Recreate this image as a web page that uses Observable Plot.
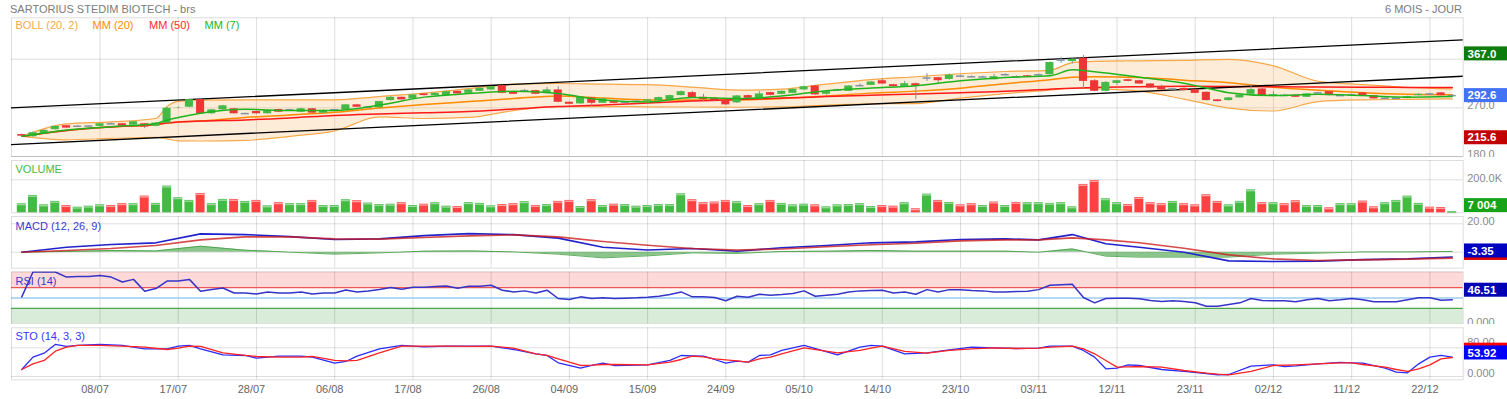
<!DOCTYPE html>
<html><head><meta charset="utf-8">
<script src="https://cdn.jsdelivr.net/npm/d3@7"></script>
<script src="https://cdn.jsdelivr.net/npm/@observablehq/plot@0.6"></script>
<style>
body{margin:0;background:#fff;overflow:hidden;}
#wrap{position:relative;width:1507px;height:399px;overflow:hidden;background:#fff;font-family:"Liberation Sans",Arial,Helvetica,sans-serif;}
.panel{position:absolute;left:0;}
.hdr{position:absolute;font-size:11px;color:#7b7b7b;white-space:nowrap;line-height:13px;}
</style></head><body><div id="wrap"></div>
<script>
// ---------- DATA ----------
const tickIdx = [7,14,21,28,35,42,49,56,63,70,77,84,91,98,105,112,119,126];
const tickLabels = ["08/07","17/07","28/07","06/08","17/08","26/08","04/09","15/09","24/09","05/10","14/10","23/10","03/11","12/11","23/11","02/12","11/12","22/12"];

const open = [220.5,216.5,222,229.6,236.9,235.5,236,235.7,240.6,240.6,238,240.6,235.7,241.7,269.5,271.1,285.2,259,266.3,268.2,259,263.2,259,266.9,266,261.9,268.2,260.1,266,266.3,275.5,271,270,283.4,289.5,286.5,295.7,292.6,292.6,300.5,296.8,300.5,303.1,311,298.7,301.6,301.8,296.8,303.1,280.3,277.3,288.4,278.4,283.4,280.1,281.9,282.1,282.9,284.7,292.6,298.1,289.5,287.6,283.4,279.2,292.6,285.8,298.1,295,296.8,303.1,310.4,295,302.9,300.5,310.8,311.5,320.1,312.8,309.7,314.6,325,325.7,322.5,328.8,327.5,326.8,322,330.9,327.5,329.3,331,331.2,358,355.6,361.8,320.1,300.5,315.2,322,320.1,314.1,309.7,304.7,306,303.1,298.7,284.7,283.4,288.4,295,304.9,290.8,293.2,293.1,289.5,297.5,299.9,292.5,293.8,297.6,292.6,287.5,287.5,287.6,292.6,295.7,297.6,292.3];
const high = [221.5,225,229.5,236.5,237.5,237,237,241.5,242,241.5,245,241,242.5,270.5,271.5,286,286.5,267,274.5,269,260,264,265.5,267.5,267.5,269.5,269,266,267,276,276.5,272.5,282,290.5,290,294.5,296.5,297.5,300.5,301,304,307,310,311.5,299.5,304,302.5,308,309,281,290.5,289,287.5,284.5,281.5,283.5,285.5,290,293.5,301,300.5,295,288.5,284,293,294,300,299,301.5,305,310,311.5,300.5,304.5,311,314,318.5,323,313.5,319,316,333,326.5,332.5,330.5,329,328.5,332,333,329,330,332.5,355,363.5,361,367,322,318.5,321,323,321,315,312,306,307,304,299.5,285.5,289,294.5,313,306,300,295,294,296.5,298.5,300.5,293.5,295.5,298.5,293,288.5,288.5,291.5,296,296.5,298.5,294];
const low = [215.6,215.8,221,229,232,234.5,235,235,239,235.5,237,231.5,235,241,268,270,258,258,265.5,258.5,258,258,258.5,261,265,261,259.5,259.5,265,265.5,270.5,270,269.5,282.5,284,285.5,292,292,292,295,296,300,302.5,296,294.5,300.5,294.5,296,279.5,275.5,276.5,272.5,278,277.5,279,277,281.5,282,284,292,288,282,281,274.5,278,287,285,292,294,296,302.5,293,293.5,301.5,300,309,311,313.5,308.5,309,284.7,319,315,321.5,327,326,325.5,321.5,329.5,326,326.5,329.5,330.5,352,351,305,299.5,299.5,311,318,313.5,306,302.5,303,301,296,282.5,280.5,282.5,288,294.5,291,290,291.5,289,289,296.5,292,291.5,292,291,286,286.5,286.5,287,292,294.5,292,291.5];
const close = [217.5,224,228.3,235.7,232.5,235.9,236.3,240.6,240.3,236.2,244.3,234.4,241.7,269.3,270,285.2,259,266.3,273.7,259,259.3,259,265,261.9,266.3,268.2,260.1,265,266.3,275.5,271.1,271.3,281.6,289.5,284.7,293.9,292.6,296.8,299.9,295.7,303.1,306,309.1,296.8,295,301.8,295,303.1,280.3,276.6,289.5,278.4,286.5,278.4,280.3,282.1,284.7,288.9,292.6,299.9,288.4,285.2,283.4,275.5,292,287.6,295.7,293.1,300.5,304.2,309.1,293.9,299.9,303.1,310.4,311,317.8,314.1,309.1,314.6,309.7,325.1,320.1,330.6,328.6,327.3,327,327.5,331.2,327.3,327.5,331.2,353.8,358.2,360,318.9,300.5,317,320.1,318.9,314.1,306.7,303.1,304.9,301.8,296.8,283.4,281.6,288.4,293.9,303.6,292,294.4,293,289.5,295.7,297.6,292.6,292.6,293.9,291.4,286.5,287.6,287.6,290.8,295,295.6,292.6,292.6];

// volume in thousands of shares
const volumeK = [54.5,105,48,69,44,34,40,48,44,55,55,101,57,162,91,75,117,55,81,81,69,75,42,61,55,55,75,44,44,79,73,59,50,52,61,44,52,61,40,38,61,57,42,50,55,67,44,50,69,75,38,79,44,52,50,40,44,50,50,115,79,61,65,75,67,44,55,75,57,48,52,48,36,48,50,55,38,44,40,61,24,113,75,63,48,55,44,65,44,63,61,61,57,61,36,172,196,85,61,50,93,61,55,69,55,48,109,69,48,69,139,61,61,55,73,44,44,30,55,55,71,36,61,75,101,57,34,32,7.004];
const volDir = "uuuuduuudd"+"uduuuuduud"+"ududuuduuu"+"duuududuud"+"uuuddududd"+"ududuuuuuu"+"ddddududuu"+"uduuuuuddu"+"dududdudud"+"uuuuudduud"+"dddudddduu"+"ududduuduu"+"dduuuuddu";

// moving averages / Bollinger (read at these bar positions)
const lineIdx = [0,4,8,12,13,14,16,20,24,28,32,36,40,44,48,52,56,60,64,68,72,76,80,84,88,92,94,96,100,104,108,112,116,120,124,128];
const bollUp  = [217.3,240.2,243.9,250.3,272.4,282.1,284.3,284.7,284.7,284.7,290.8,297.2,305.4,313.7,315.0,313.7,312.8,308.2,302.7,304.5,313.7,322.0,327.5,333.0,337.2,339.4,353.7,356.0,356.9,357.8,359.6,347.7,319.2,312.8,307.8,304.9];
const bollLow = [217.3,210.9,213.6,215.5,212.7,208.9,208.7,209.9,217.3,227.4,253.1,250.3,252.2,265.0,272.4,272.4,271.8,271.5,271.1,271.8,275.1,277.3,277.9,288.0,296.3,302.7,306.2,305.4,300.9,286.2,269.6,264.1,281.6,284.7,285.6,286.5];
const mm20    = [217.3,228.3,234.7,239.3,242.0,244.0,245.5,252.2,256.8,261.9,269.6,276.1,281.6,287.1,292.0,288.0,284.7,284.7,284.7,287.1,291.7,297.2,300.9,306.4,314.6,322.0,326.6,327.5,326.2,321.1,316.5,308.2,302.7,298.1,295.3,294.4];
const mm50    = [217.3,228.3,234.7,239.3,242.0,244.0,245.5,247.6,251.3,255.9,258.6,260.8,263.2,267.8,272.4,275.1,278.8,282.5,285.2,288.0,290.8,293.5,295.7,298.1,300.5,304.5,306.4,307.8,309.1,309.7,309.5,309.1,308.6,308.2,307.8,307.8];
const mm7     = [217.3,229.2,235.1,241.2,247.0,252.0,260.0,267.4,265.0,265.0,275.1,289.8,296.3,300.5,296.3,284.3,280.7,288.9,287.1,291.7,301.8,306.7,311.0,320.1,326.2,329.3,340.2,336.7,326.6,315.6,298.1,292.6,295.3,292.6,289.8,290.8];

// trend channel (drawn lines)
const trendIdx = [-1,129];
const trendUpper = [269.9,395.7];
const trendLower = [202.1,328.4];

// MACD (12, 26, 9)
const macdIdx = [0,4,8,12,16,20,24,28,32,36,40,44,48,52,56,60,64,68,72,76,80,84,88,91,94,97,100,104,108,112,116,120,124,128];
const macdLine   = [0,3.5,5.4,6.6,12.9,12.4,11.0,8.9,9.4,11.7,13.1,12.4,9.9,3.5,1.6,2.6,0.7,3.1,4.7,6.6,7.3,8.9,9.4,8.7,12.4,5.9,3.5,0,-6.1,-6.6,-6.3,-5.2,-4.7,-3.35];
const macdSignal = [0,1.2,2.6,4.7,8.7,10.8,10.8,9.4,9.2,10.3,11.5,12.2,10.8,7.5,4.9,2.6,1.6,2.3,3.8,5.2,6.3,8.0,8.7,8.7,10.1,8.7,6.6,2.8,-1.9,-4.7,-5.9,-5.4,-4.9,-4.2];
const macdHist   = [0,0.5,1.2,0.9,4.2,1.4,0,-1.4,-0.5,0.7,0.9,0.2,-1.4,-4.0,-2.6,-0.5,-0.9,0.5,0.7,1.2,0.7,0.7,0.7,0,2.3,-2.8,-3.5,-3.5,-3.5,-1.4,-0.7,0.2,0.2,0.5];

// RSI (14), one value per bar
const rsi = [52.1,100,100,100,90.2,91.5,91.5,93.4,90.2,80.7,85.8,63,68.1,82.6,82.6,85.8,63,66.2,69.3,59.7,59.7,57.8,61.6,59.7,59.7,61.6,57.8,59.7,59.7,65.4,61.6,63.5,66.2,70,66.8,70.6,70.6,71.9,73.1,68.7,72.5,72.5,74.4,65,61.7,63.7,59.8,65,49,47.1,52.2,49,50.3,49,49.6,50.3,51.5,53.4,56.7,61.7,52.2,52.2,50.9,44.6,53.4,51.5,57.3,55.4,56.7,58.6,63.7,53.4,55.4,57.3,61.7,63.7,64.4,65,59.8,61.7,57.3,66.1,61.7,66.1,66.1,64.3,63.7,61.7,61.7,62.3,63,66.1,74.4,75.7,76.3,50.9,40.7,49,49.6,49.6,48.4,45.2,43.3,44.6,43.3,40.7,34.3,34.3,37.5,40.7,49,45.2,44.6,44.6,42.6,46.5,49,44.6,46.5,49,46.5,42.6,42.6,42.6,46.5,50.3,50.3,45.8,46.51];

// Stochastic (14, 3, 3)
const stoIdx = [0,1,2,3,4,5,7,9,11,13,14,15,16,18,20,21,23,25,26,28,29,30,32,34,36,38,40,42,43,44,46,47,48,50,51,52,53,56,58,59,60,61,62,63,64,65,66,67,68,70,73,75,76,77,79,81,83,85,87,89,91,92,94,95,96,97,98,99,100,102,104,106,107,108,110,112,113,114,116,118,119,120,122,123,124,125,126,127,128];
const stoK = [19.5,54,65.1,89.3,83.7,86.5,89.3,86.5,77.2,77.2,84.7,86.5,77.2,60.5,58.6,51.2,56.7,56.7,54,37.2,41.9,56.7,77.2,86.5,82.8,84.7,84.7,84.7,80,75.3,63.3,58.6,38.1,23.3,30.7,37.2,30.7,32.6,44.7,58.6,57.7,56.7,47.4,37.2,42.8,40,58.6,60.5,72.6,86.5,60.5,81.9,86.5,84.7,63.3,66,74.4,81.9,80,78.1,79.1,84.7,84.7,72.6,54,21.4,23.3,32.6,30.7,19.5,14,8.4,4.7,5.6,28.8,32.6,27.9,29.8,35.3,39.1,38.1,37.2,23.3,12.1,10.2,35.3,54,58.6,53.92];
const stoD = [19.5,35.3,44.7,70.7,81.9,86.5,86.5,84.7,81.9,75.3,79.1,84.7,83.7,66,58.6,55.8,54,54,55.8,44.7,43.7,44.7,66,84.7,84.7,84.7,83.7,84.7,81.9,79.1,63.3,58.6,49.3,30.7,31.6,33.5,33.5,32.6,40,47.4,56.7,54.9,49.3,46.5,43.7,40,49.3,54,63.3,80,66,72.6,79.1,84.7,69.8,65.1,72.6,77.2,80,78.1,79.1,81.9,84.7,77.2,63.3,44.7,26,27,27.9,26,16.7,9.3,6.5,4.7,14,30.7,31.6,32.6,35.3,38.1,38.1,33.5,26,19.5,14,21.4,32.6,49.3,53];

// last / extreme values shown in the right-hand boxes
const priceHigh = 367.0, priceLast = 292.6, priceLow = 215.6;
const volLast = 7.004, volLastText = "7 004";
const macdLast = -3.35, macdSigLast = -4.2;
const rsiLast = 46.51;
const stoKLast = 53.92, stoDLast = 53;

// ---------- BUILD ----------
const W = 1507;
const xDomain = [-0.92, 128.98];
const FONT = "Liberation Sans, Arial, Helvetica, sans-serif";
const labelMap = new Map(tickIdx.map((d, k) => [d, tickLabels[k]]));
const grid = {stroke: "#000", strokeOpacity: 0.135};
const vGrid = () => Plot.ruleX(tickIdx, grid);
const common = (h, mt, mb) => ({
  width: W, height: h, marginLeft: 11, marginRight: W - 1462.7, marginTop: mt, marginBottom: mb,
  x: {domain: xDomain, axis: null},
  style: {fontFamily: FONT, fontSize: "11px", background: "#fff", overflow: "hidden"}
});
const f4 = d3.format(".4r");
const rightLabels = (vals, fmt, dy) => Plot.text(vals, {y: d => d, frameAnchor: "right", textAnchor: "start", dx: 4, dy, text: fmt, fill: "#8a8a8a", fontSize: 11});
const panelLabel = (t, color, dx, dy) => Plot.text([t], {frameAnchor: "top-left", dx, dy, text: d => d, fill: color, fontSize: 11, textAnchor: "start", lineAnchor: "middle"});

const candles = d3.range(open.length).map(i => ({i, o: open[i], h: high[i], l: low[i], c: close[i]}));
const kind = d => d.c > d.o + 0.4 ? "up" : d.c < d.o - 0.4 ? "down" : "flat";
const bx1 = d => d.i - 0.36, bx2 = d => d.i + 0.36;
const band = lineIdx.map((i, k) => ({i, up: bollUp[k], low: bollLow[k], m20: mm20[k], m50: mm50[k], m7: mm7[k]}));
const trendU = trendIdx.map((i, k) => ({i, v: trendUpper[k]}));
const trendL = trendIdx.map((i, k) => ({i, v: trendLower[k]}));
const wick = "#7f93a6";

const pricePlot = Plot.plot({
  ...common(157, 17.3, 1),
  y: {domain: [180, 436.5], axis: null},
  marks: [
    Plot.ruleY([180, 270, 360], grid),
    vGrid(),
    Plot.areaY(band, {x: "i", y1: "low", y2: "up", fill: "#f9c07a", fillOpacity: 0.3, curve: "monotone-x"}),
    Plot.line(band, {x: "i", y: "up", stroke: "#f7a748", strokeWidth: 1.2, curve: "monotone-x"}),
    Plot.line(band, {x: "i", y: "low", stroke: "#f7a748", strokeWidth: 1.2, curve: "monotone-x"}),
    Plot.line(band, {x: "i", y: "m20", stroke: "#ff8a00", strokeWidth: 1.5, curve: "monotone-x"}),
    Plot.line(band, {x: "i", y: "m50", stroke: "#ff1a1a", strokeWidth: 1.5, curve: "monotone-x"}),
    Plot.line(trendU, {x: "i", y: "v", stroke: "#000", strokeWidth: 1.3, clip: true}),
    Plot.line(trendL, {x: "i", y: "v", stroke: "#000", strokeWidth: 1.3, clip: true}),
    Plot.ruleX(candles, {x: "i", y1: "l", y2: "h", stroke: wick, strokeWidth: 1}),
    Plot.rect(candles.filter(d => kind(d) === "up"), {x1: bx1, x2: bx2, y1: "o", y2: "c", fill: "#45b945"}),
    Plot.rect(candles.filter(d => kind(d) === "down"), {x1: bx1, x2: bx2, y1: "o", y2: "c", fill: "#ee3434"}),
    Plot.ruleY(candles.filter(d => kind(d) === "flat"), {x1: bx1, x2: bx2, y: "c", stroke: wick, strokeWidth: 1.5}),
    Plot.line(band, {x: "i", y: "m7", stroke: "#1fb41f", strokeWidth: 1.5, curve: "monotone-x"}),
    Plot.frame(grid),
    rightLabels([180, 270], f4, -2),
    panelLabel("BOLL (20, 2)", "#f6a94e", 4, 8),
    panelLabel("MM (20)", "#ff8c00", 81, 8),
    panelLabel("MM (50)", "#ff2b2b", 137.5, 8),
    panelLabel("MM (7)", "#1cb41c", 193, 8)
  ]
});

const vols = volumeK.map((v, i) => ({i, v, up: volDir[i] === "u"}));
const vx1 = d => d.i - 0.4, vx2 = d => d.i + 0.4;
const volPlot = Plot.plot({
  ...common(58, 3, 2.7),
  y: {domain: [0, 317], axis: null},
  marks: [
    Plot.ruleY([200], grid),
    vGrid(),
    Plot.rect(vols.filter(d => d.up), {x1: vx1, x2: vx2, y1: d => 0, y2: "v", fill: "#43bb43"}),
    Plot.rect(vols.filter(d => !d.up), {x1: vx1, x2: vx2, y1: d => 0, y2: "v", fill: "#ff4141"}),
    Plot.ruleY(vols.filter(d => d.up), {x1: vx1, x2: vx2, y: "v", dy: 0.8, stroke: "#9ad99a", strokeWidth: 1.4}),
    Plot.ruleY(vols.filter(d => !d.up), {x1: vx1, x2: vx2, y: "v", dy: 0.8, stroke: "#ffa3a3", strokeWidth: 1.4}),
    Plot.frame(grid),
    rightLabels([200], d => f4(d) + "K", -1.5),
    panelLabel("VOLUME", "#45b945", 4, 9)
  ]
});

const macd = macdIdx.map((i, k) => ({i, m: macdLine[k], s: macdSignal[k], h: macdHist[k]}));
const macdPlot = Plot.plot({
  ...common(55, 1, 2.3),
  y: {domain: [-11.27, 25.14], axis: null},
  marks: [
    Plot.ruleY([0, 20], grid),
    vGrid(),
    Plot.areaY(macd, {x: "i", y1: d => 0, y2: "h", fill: "#2e962e", fillOpacity: 0.55}),
    Plot.line(macd, {x: "i", y: "h", stroke: "#3d9d3d", strokeWidth: 1, strokeOpacity: 0.8}),
    Plot.line(macd, {x: "i", y: "m", stroke: "#2222cc", strokeWidth: 1.6}),
    Plot.line(macd, {x: "i", y: "s", stroke: "#cc1d1d", strokeWidth: 1.6, strokeOpacity: 0.8}),
    Plot.frame(grid),
    rightLabels([20], f4, -2.5),
    panelLabel("MACD (12, 26, 9)", "#3a3acc", 4, 9.5)
  ]
});

const rsiData = rsi.map((v, i) => ({i, v}));
const zones = [{lo: 70, hi: 100, fill: "#fdd9d9"}, {lo: 0, hi: 30, fill: "#d9ecd9"}];
const rsiPlot = Plot.plot({
  ...common(56, 1.5, 2.5),
  y: {domain: [0, 100], axis: null},
  marks: [
    Plot.rect(zones, {x1: () => xDomain[0], x2: () => xDomain[1], y1: "lo", y2: "hi", fill: d => d.fill}),
    vGrid(),
    Plot.ruleY([70], {stroke: "#f05555", strokeWidth: 1.2}),
    Plot.ruleY([50], {stroke: "#9ccbf2", strokeWidth: 1.4}),
    Plot.ruleY([30], {stroke: "#4fa64f", strokeWidth: 1.2}),
    panelLabel("RSI (14)", "#3a3acc", 4, 9.5),
    Plot.line(rsiData, {x: "i", y: "v", stroke: "#3434c8", strokeWidth: 1.5, clip: true}),
    Plot.frame(grid),
    rightLabels([0], f4, -2)
  ]
});

const sto = stoIdx.map((i, k) => ({i, k: stoK[k], d: stoD[k]}));
const stoPlot = Plot.plot({
  ...common(75, 3.3, 19.7),
  y: {domain: [-9.2, 135.75], axis: null},
  marks: [
    Plot.ruleY([0, 80], grid),
    vGrid(),
    Plot.line(sto, {x: "i", y: "k", stroke: "#2b2bff", strokeWidth: 1.3}),
    Plot.line(sto, {x: "i", y: "d", stroke: "#ff2222", strokeWidth: 1.3}),
    Plot.frame(grid),
    rightLabels([0], f4, -3),
    rightLabels([80], f4, -5),
    panelLabel("STO (14, 3, 3)", "#3535ff", 4, 9),
    Plot.text(tickIdx, {x: d => d, frameAnchor: "bottom", dy: 10, dx: -5, text: d => labelMap.get(d), fill: "#666", fontSize: 11, lineAnchor: "middle"})
  ]
});

// value boxes on the right, positioned with each panel's y scale
function addBox(plot, value, text, fill, dy) {
  const y = plot.scale("y").apply(value) + dy;
  const svg = d3.select(plot);
  svg.append("rect").attr("x", 1464).attr("y", y - 7).attr("width", 43).attr("height", 14).attr("fill", fill);
  if (text) svg.append("text").attr("x", 1467.5).attr("y", y).attr("dy", "0.36em")
    .attr("text-anchor", "start").attr("fill", "#fff").attr("font-weight", "bold")
    .attr("font-size", 11.5).attr("font-family", FONT).text(text);
}
addBox(pricePlot, priceHigh, priceHigh.toFixed(1), "#0c7c0c", -1.5);
addBox(pricePlot, priceLast, priceLast.toFixed(1), "#4272f5", 0);
addBox(pricePlot, priceLow, priceLow.toFixed(1), "#c20000", 0.5);
addBox(volPlot, volLast, volLastText, "#17a317", -6);
addBox(macdPlot, macdSigLast, null, "#dd0000", -4.7);
addBox(macdPlot, macdLast, macdLast.toFixed(2), "#0000c0", -6);
addBox(rsiPlot, rsiLast, rsiLast.toFixed(2), "#0000b4", -9.6);
addBox(stoPlot, stoDLast, null, "#ff0000", -7.3);
addBox(stoPlot, stoKLast, stoKLast.toFixed(2), "#0000ff", -4.2);

// stack panels
const wrap = document.getElementById("wrap");
[[pricePlot, 0], [volPlot, 157], [macdPlot, 215], [rsiPlot, 270], [stoPlot, 324]].forEach(([p, top]) => {
  const div = document.createElement("div");
  div.className = "panel";
  div.style.top = top + "px";
  div.appendChild(p);
  wrap.appendChild(div);
});
const t1 = document.createElement("div");
t1.className = "hdr"; t1.style.left = "10px"; t1.style.top = "2.5px";
t1.textContent = "SARTORIUS STEDIM BIOTECH - brs";
wrap.appendChild(t1);
const t2 = document.createElement("div");
t2.className = "hdr"; t2.style.right = "45px"; t2.style.top = "2.5px";
t2.textContent = "6 MOIS - JOUR";
wrap.appendChild(t2);
</script></body></html>
